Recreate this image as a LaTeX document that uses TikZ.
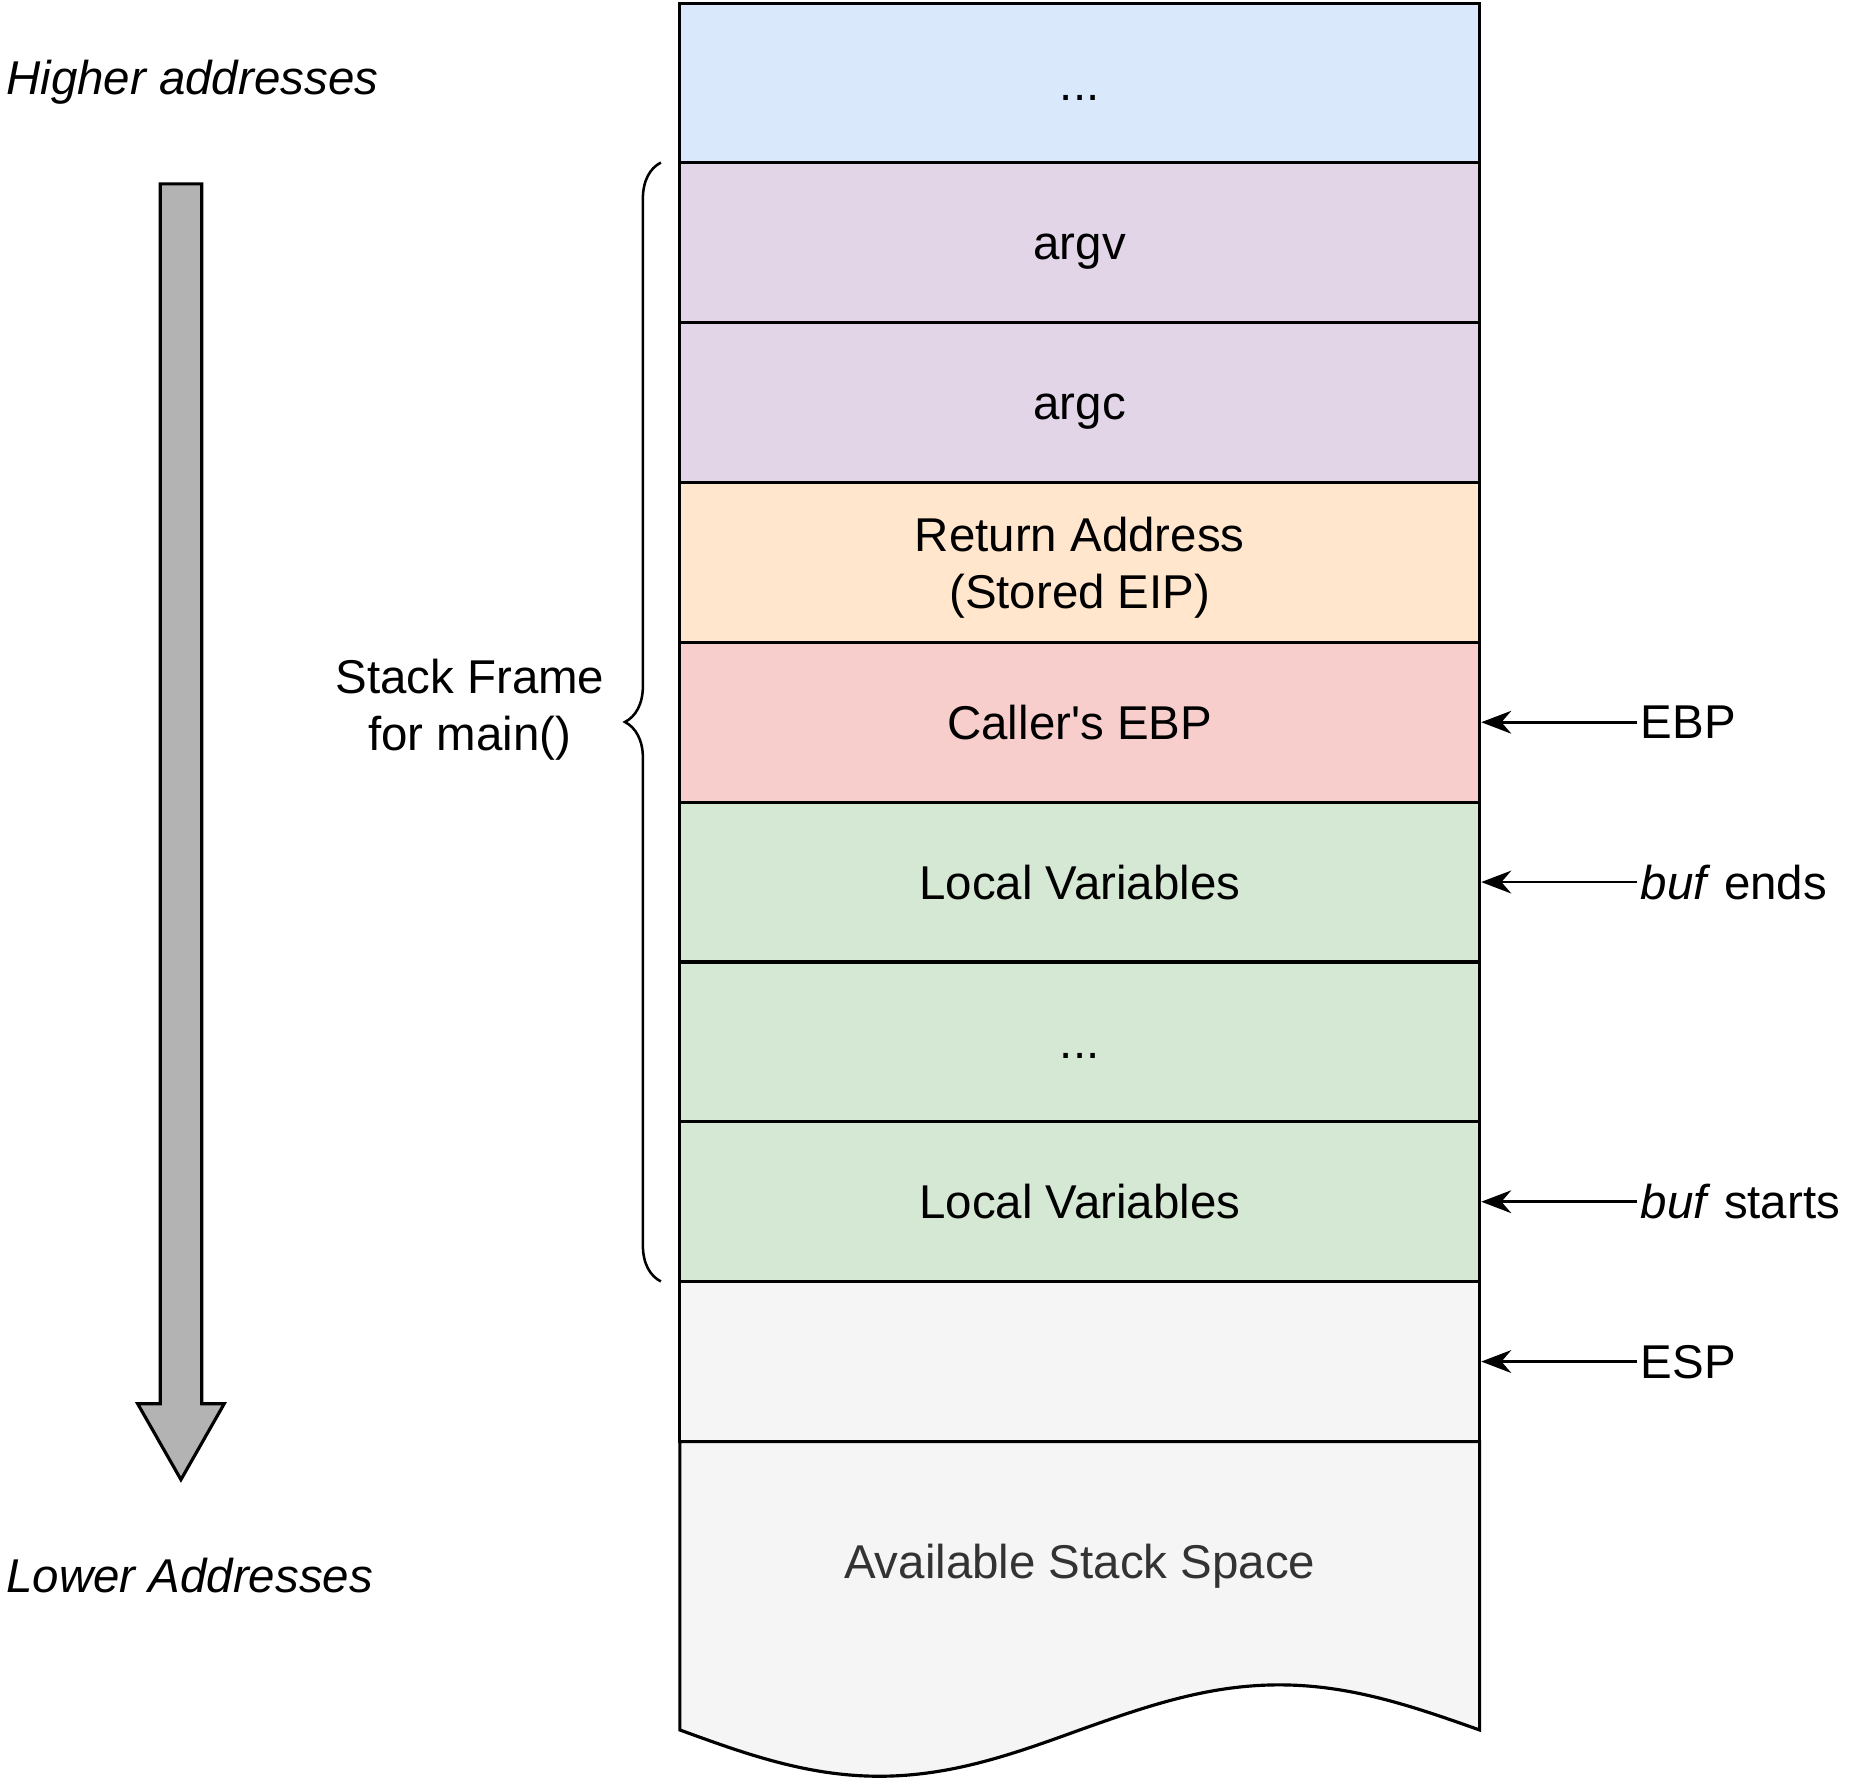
\documentclass[tikz,border=0pt]{standalone}
\usepackage{fontspec}
\setmainfont{Liberation Sans}
\usetikzlibrary{arrows.meta,decorations.pathreplacing}
\definecolor{cellblue}{HTML}{DAE8FC}
\definecolor{cellpurple}{HTML}{E1D5E7}
\definecolor{cellorange}{HTML}{FFE6CC}
\definecolor{cellred}{HTML}{F8CECC}
\definecolor{cellgreen}{HTML}{D5E8D4}
\definecolor{cellgray}{HTML}{F5F5F5}
\definecolor{textgray}{HTML}{333333}
\definecolor{arrowgray}{HTML}{B3B3B3}

\begin{document}
\begin{tikzpicture}[x=0.01978cm,y=-0.01978cm,
    every node/.style={font=\fontsize{22.5}{27}\selectfont,text depth=0pt},
    cell/.style={draw,line width=1.5pt,minimum width=13.33cm,minimum height=2.664cm,inner sep=0pt,align=center},
    slot/.style={cell,text height=16.1pt},
    pointer/.style={-{Stealth[length=0.5cm,width=0.38cm]},line width=1.3pt},
    tag/.style={anchor=west,inner sep=0.05cm}]
    \useasboundingbox (0,0) rectangle (1569.3,1503.5);
    % stack cells, top to bottom
    \node[slot,fill=cellblue] (dots) at (910,70) {...};
    \node[slot,fill=cellpurple] (argv) at (910,204.6) {argv};
    \node[slot,fill=cellpurple] (argc) at (910,339.3) {argc};
    \node[cell,fill=cellorange] (ret) at (910,474) {Return Address\\(Stored EIP)};
    \node[slot,fill=cellred] (callerebp) at (910,608.7) {Caller\textquotesingle s EBP};
    \node[slot,fill=cellgreen] (localtop) at (910,743.4) {Local Variables};
    \node[slot,fill=cellgreen] (localdots) at (910,878.1) {...};
    \node[slot,fill=cellgreen] (localbot) at (910,1012.8) {Local Variables};
    \node[slot,fill=cellgray] (free) at (910,1147.5) {};
    % torn bottom of the stack
    \draw[line width=1.5pt,fill=cellgray] (573,1215) -- (573,1458) sin (741,1497) cos (910,1458)
        sin (1078,1420) cos (1247,1458) -- (1247,1215) -- cycle;
    \node[text=textgray] (avail) at (910,1316) {Available Stack Space};
    % growth direction
    \draw[line width=1.5pt,fill=arrowgray] (135,155) -- (170,155) -- (170,1183) -- (189,1183)
        -- (152.5,1247) -- (116,1183) -- (135,1183) -- cycle;
    \node[anchor=west,inner sep=0pt,font=\fontsize{22.5}{27}\selectfont\itshape] (high) at (5,65) {Higher addresses};
    \node[anchor=west,inner sep=0pt,font=\fontsize{22.5}{27}\selectfont\itshape] (low) at (5,1328) {Lower Addresses};
    % frame brace
    \draw[decorate,decoration={brace,amplitude=0.6cm},line width=1.2pt] (557,1080) -- (557,137);
    \node[align=center] (frame) at (396,594) {Stack Frame\\for main()};
    % register pointers
    \node[tag] (ebp) at (1380,608.7) {EBP};
    \node[tag] (bufend) at (1380,743.4) {\textit{buf} ends};
    \node[tag] (bufstart) at (1380,1012.8) {\textit{buf} starts};
    \node[tag] (esp) at (1380,1147.5) {ESP};
    \draw[pointer] (ebp.west) -- (callerebp.east);
    \draw[pointer] (bufend.west) -- (localtop.east);
    \draw[pointer] (bufstart.west) -- (localbot.east);
    \draw[pointer] (esp.west) -- (free.east);
\end{tikzpicture}
\end{document}
